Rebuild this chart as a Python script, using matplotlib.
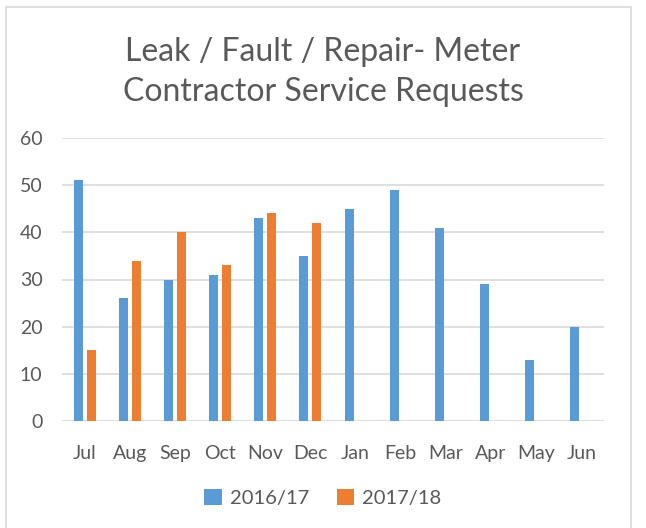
import numpy as np
import matplotlib.pyplot as plt
from matplotlib.patches import Rectangle

months = ["Jul", "Aug", "Sep", "Oct", "Nov", "Dec",
          "Jan", "Feb", "Mar", "Apr", "May", "Jun"]
fy1617 = [51, 26, 30, 31, 43, 35, 45, 49, 41, 29, 13, 20]
fy1718 = [15, 34, 40, 33, 44, 42]
yticks = [0, 10, 20, 30, 40, 50, 60]

blue = "#5b9bd5"
orange = "#ed7d31"
grey_txt = "#595959"
grid_c = "#d9d9d9"

plt.rcParams['font.family'] = ['Lato', 'DejaVu Sans']

fig = plt.figure(figsize=(6.46, 5.28), dpi=100)
ax = fig.add_axes([62 / 646, (528 - 421) / 528, 542 / 646, (421 - 138) / 528])

x = np.arange(len(months))
w = 0.2
off = 0.145
ax.bar(x - off, fy1617, width=w, color=blue, label="2016/17", zorder=3)
ax.bar(x[:len(fy1718)] + off, fy1718, width=w, color=orange, label="2017/18", zorder=3)

ax.set_xlim(-0.5, len(months) - 0.5)
ax.set_ylim(0, 60)
ax.set_yticks(yticks)
ax.set_xticks(x)
ax.set_xticklabels(months)
ax.tick_params(length=0, colors=grey_txt, labelsize=14)
ax.tick_params(axis="x", pad=17)
ax.tick_params(axis="y", pad=14)
ax.yaxis.grid(True, color=grid_c, linewidth=1.2, zorder=0)
for s in ax.spines.values():
    s.set_visible(False)

fig.text(0.5, 0.902, "Leak / Fault / Repair- Meter", ha="center", va="center",
         fontsize=23, color=grey_txt)
fig.text(0.5, 0.825, "Contractor Service Requests", ha="center", va="center",
         fontsize=23, color=grey_txt)

fig.legend(loc="center", bbox_to_anchor=(0.5, (528 - 498) / 528), ncol=2,
           frameon=False, fontsize=14.5, labelcolor=grey_txt,
           handlelength=0.85, handleheight=0.85, columnspacing=1.4, handletextpad=0.4)

fig.patches.append(Rectangle((6 / 646, -0.1), 625 / 646, 1.1 - 7 / 528,
                             transform=fig.transFigure, fill=False,
                             edgecolor=grid_c, linewidth=1.2))

fig.savefig("out.png", dpi=100)
